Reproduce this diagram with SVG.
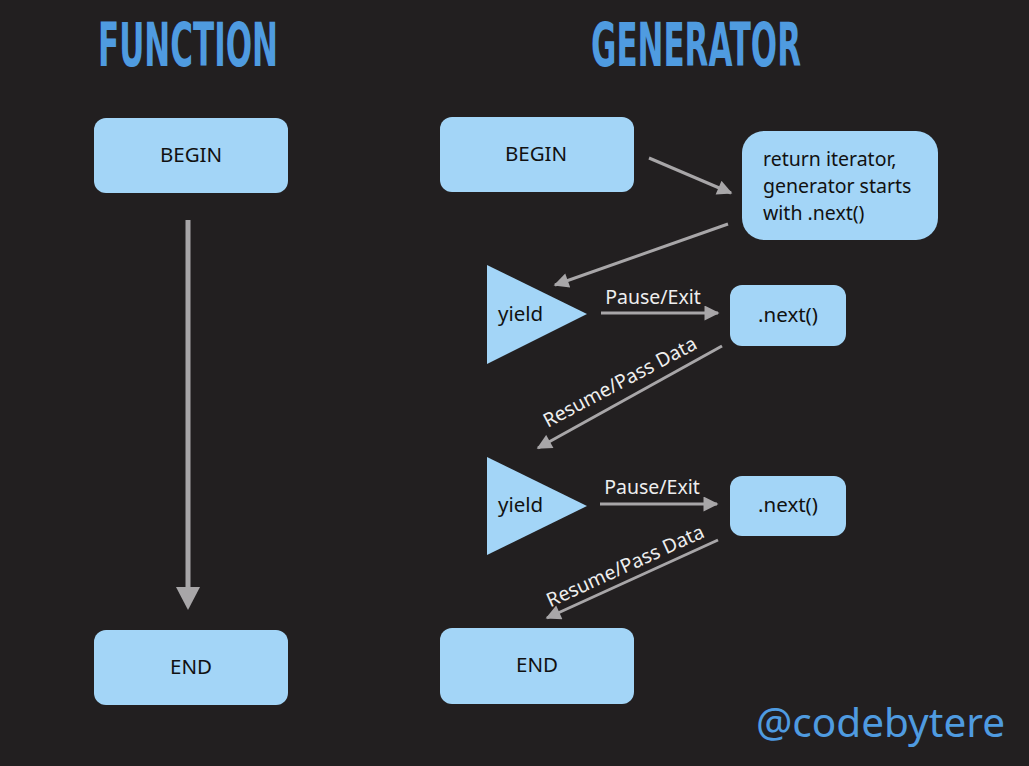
<svg xmlns="http://www.w3.org/2000/svg" width="1029" height="766" viewBox="0 0 1029 766">
<defs>
<style>
.title{font-family:"DejaVu Sans Condensed","Liberation Sans Narrow",sans-serif;font-weight:bold;font-size:60px;fill:#4f9be0}
.box{fill:#a3d5f7}
.t{font-family:"Noto Sans",Lato,sans-serif;font-size:20.5px;fill:#111}
.ts{font-size:19.5px}
.lbl{font-family:"Noto Sans",Lato,sans-serif;font-size:19.5px;fill:#eeeeee}
.c{stroke:#a8a6a8;stroke-width:3;fill:none}
</style>
<marker id="ah" viewBox="0 0 10 10" refX="9" refY="5" markerWidth="5.5" markerHeight="5" markerUnits="strokeWidth" orient="auto">
<path d="M0,0 L10,5 L0,10 z" fill="#a8a6a8"/>
</marker>
</defs>
<rect width="1029" height="766" fill="#221f20"/>
<text class="title" x="188" y="66" text-anchor="middle" textLength="180" lengthAdjust="spacingAndGlyphs">FUNCTION</text>
<text class="title" x="696" y="66" text-anchor="middle" textLength="210" lengthAdjust="spacingAndGlyphs">GENERATOR</text>
<g id="f-begin"><rect class="box" x="94" y="118" width="194" height="75" rx="12"/><text class="t" x="191" y="162" text-anchor="middle">BEGIN</text></g>
<g id="f-end"><rect class="box" x="94" y="630" width="194" height="75" rx="12"/><text class="t" x="191" y="674" text-anchor="middle">END</text></g>
<g id="g-begin"><rect class="box" x="440" y="117" width="194" height="75" rx="12"/><text class="t" x="536" y="161" text-anchor="middle">BEGIN</text></g>
<g id="g-return"><rect class="box" x="742" y="131" width="196" height="109" rx="22"/><text class="t ts" x="763" y="166">return iterator,</text><text class="t ts" x="763" y="193">generator starts</text><text class="t ts" x="763" y="220">with .next()</text></g>
<g id="yield1"><polygon class="box" points="487,265 587,314 487,364"/><text class="t" x="498" y="321">yield</text></g>
<g id="next1"><rect class="box" x="730" y="285" width="116" height="61" rx="12"/><text class="t" x="788" y="322" text-anchor="middle">.next()</text></g>
<g id="yield2"><polygon class="box" points="487,457 587,506 487,555"/><text class="t" x="498" y="512">yield</text></g>
<g id="next2"><rect class="box" x="730" y="476" width="116" height="60" rx="12"/><text class="t" x="788" y="512" text-anchor="middle">.next()</text></g>
<g id="g-end"><rect class="box" x="440" y="628" width="194" height="76" rx="12"/><text class="t" x="537" y="672" text-anchor="middle">END</text></g>
<g id="connectors">
<line x1="188" y1="220" x2="188" y2="590" stroke="#a8a6a8" stroke-width="5"/>
<polygon points="176,587 200,587 188,610" fill="#a8a6a8"/>
<line class="c" x1="649" y1="158" x2="731" y2="193" marker-end="url(#ah)"/>
<line class="c" x1="728" y1="224" x2="555" y2="285" marker-end="url(#ah)"/>
<line class="c" x1="601" y1="313" x2="718" y2="313" marker-end="url(#ah)"/>
<line class="c" x1="722" y1="346" x2="538" y2="448" marker-end="url(#ah)"/>
<line class="c" x1="600" y1="504" x2="717" y2="504" marker-end="url(#ah)"/>
<line class="c" x1="718" y1="540" x2="547" y2="618" marker-end="url(#ah)"/>
<text class="lbl" x="653" y="304" text-anchor="middle">Pause/Exit</text>
<text class="lbl" x="652" y="494" text-anchor="middle">Pause/Exit</text>
<text class="lbl" x="0" y="0" text-anchor="middle" transform="translate(623,388) rotate(-28)">Resume/Pass Data</text>
<text class="lbl" x="0" y="0" text-anchor="middle" transform="translate(628,572) rotate(-24.5)">Resume/Pass Data</text>
</g>
<text x="1005" y="737" text-anchor="end" font-family="'Noto Sans',Lato,sans-serif" font-size="40.5" fill="#4f9be0">@codebytere</text>
</svg>
